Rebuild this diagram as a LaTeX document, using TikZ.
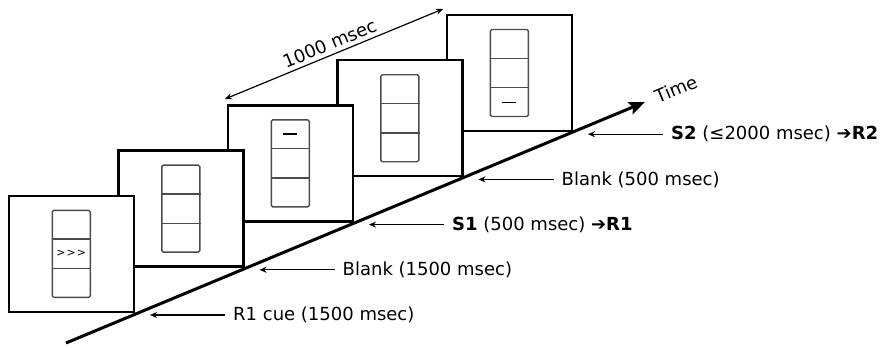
\documentclass[tikz,border=0pt]{standalone}
\usepackage{fontspec}
\setmainfont{DejaVu Sans}
\usetikzlibrary{arrows.meta,calc}

\begin{document}
\begin{tikzpicture}[x=1pt,y=-1pt,
                    frame/.style={draw,line width=2.4pt,fill=white,inner sep=0pt,
                                  minimum width=125pt,minimum height=116pt,anchor=south east},
                    slotstack/.style={draw=black!70,line width=1.4pt,rounded corners=1.5pt,inner sep=0pt,
                                  minimum width=38pt,minimum height=87pt},
                    txt/.style={font=\fontsize{18}{21}\selectfont},
                    lbl/.style={txt,anchor=west,inner xsep=8pt,inner ysep=0pt},
                    pointer/.style={line width=1.3pt,-{Stealth[length=7pt,width=6pt]}}]
  \useasboundingbox (0,0) rectangle (889,348);
  % screens, back to front
  \foreach \i in {4,3,2,1,0}{
    \node[frame] (f\i) at ({135+109.5*\i},{313-45.2*\i}) {};
    \node[slotstack] (s\i) at (f\i.center) {};
    \draw[black!70,line width=1.4pt]
      ($(s\i.north west)!1/3!(s\i.south west)$) -- ($(s\i.north east)!1/3!(s\i.south east)$)
      ($(s\i.north west)!2/3!(s\i.south west)$) -- ($(s\i.north east)!2/3!(s\i.south east)$);
  }
  % what each screen shows
  \node[font=\fontsize{11}{12}\selectfont,inner sep=0pt] (cue) at (s0.center) {>\kern1pt>\kern1pt>};
  \draw[line width=1.2pt] ($(s2.north)!1/6!(s2.south)+(-7,0)$) -- +(14,0);
  \draw[line width=1.2pt] ($(s4.north)!5/6!(s4.south)+(-7,0)$) -- +(14,0);
  % time axis
  \coordinate (t0) at (66,343);
  \coordinate (t1) at (645,102);
  \draw[line width=3pt,-{Stealth[length=16pt,width=13pt,inset=3pt]}] (t0) --
    node[txt,pos=1,sloped,anchor=west,inner xsep=10pt] (time) {Time} (t1);
  % interval
  \coordinate (d0) at (225,99);
  \coordinate (d1) at (443,9);
  \draw[line width=1.2pt,{Stealth[length=7pt,width=6pt]}-{Stealth[length=7pt,width=6pt]}] (d0) --
    node[txt,midway,sloped,above,inner sep=4pt] (dur) {1000 msec} (d1);
  % events
  \foreach \i/\ev in {0/{R1 cue (1500 msec)},
                      1/{Blank (1500 msec)},
                      2/{\textbf{S1} (500 msec) ➔\textbf{R1}},
                      3/{Blank (500 msec)},
                      4/{\textbf{S2} (≤2000 msec) ➔\textbf{R2}}}{
    \coordinate (c\i) at ($(f\i.south east)+(15,2)$);
    \node[lbl] (l\i) at ($(c\i)+(75,0)$) {\ev};
    \draw[pointer] (l\i.west) -- (c\i);
  }
\end{tikzpicture}
\end{document}
